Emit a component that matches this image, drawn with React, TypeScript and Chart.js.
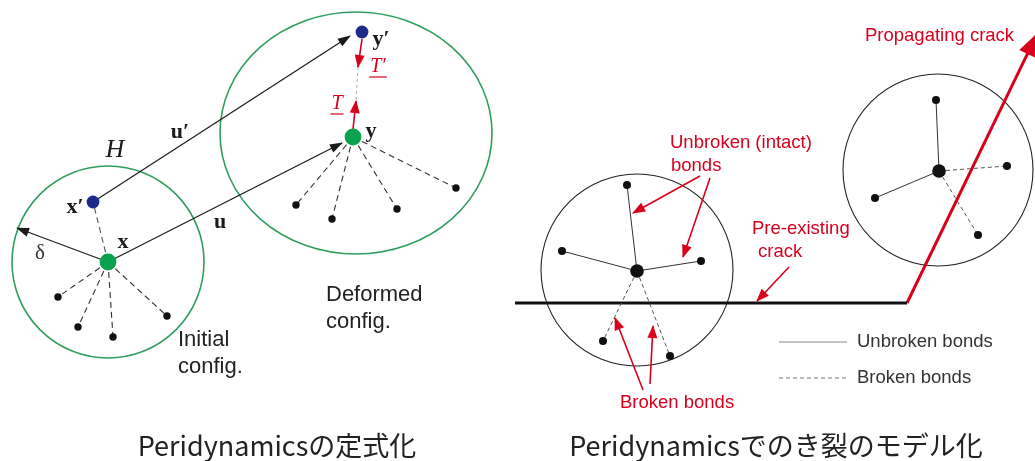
import { useEffect, useRef } from "react";
import { Chart, registerables } from "chart.js";

Chart.register(...registerables);

type P = { x: number; y: number };

// ---------- diagram data (page units) ----------
// Left: peridynamic formulation
const initialCenter: P = { x: 108, y: 262 };
const initialNeighbors: P[] = [
  { x: 58, y: 297 },
  { x: 78, y: 327 },
  { x: 113, y: 337 },
  { x: 167, y: 316 },
];
const initialPrime: P = { x: 93, y: 202 };
const horizonEdge: P = { x: 17, y: 228 };

const deformedCenter: P = { x: 353, y: 137 };
const deformedNeighbors: P[] = [
  { x: 296, y: 205 },
  { x: 332, y: 219 },
  { x: 397, y: 209 },
  { x: 456, y: 188 },
];
const deformedPrime: P = { x: 362, y: 32 };
const displacementTipPrime: P = { x: 350, y: 36 };
const displacementTip: P = { x: 342, y: 143 };
const tractionPrime: P[] = [{ x: 362, y: 39 }, { x: 358, y: 67 }];
const traction: P[] = [{ x: 353, y: 129 }, { x: 356, y: 101 }];
const tractionGap: P[] = [{ x: 358, y: 67 }, { x: 356, y: 101 }];

// Right: crack modelling
const leftFamilyCenter: P = { x: 637, y: 271 };
const leftIntact: P[] = [
  { x: 627, y: 185 },
  { x: 562, y: 251 },
  { x: 701, y: 261 },
];
const leftBroken: P[] = [
  { x: 603, y: 341 },
  { x: 670, y: 356 },
];
const rightFamilyCenter: P = { x: 939, y: 171 };
const rightIntact: P[] = [
  { x: 936, y: 100 },
  { x: 875, y: 198 },
];
const rightBroken: P[] = [
  { x: 1007, y: 166 },
  { x: 978, y: 235 },
];
const preCrack: P[] = [{ x: 515, y: 303 }, { x: 907, y: 303 }];
const propagatingCrack: P[] = [{ x: 907, y: 303 }, { x: 1037, y: 34 }];

const calloutIntact: P[][] = [
  [{ x: 700, y: 176 }, { x: 633, y: 213 }],
  [{ x: 710, y: 178 }, { x: 683, y: 257 }],
];
const calloutPreCrack: P[] = [{ x: 789, y: 267 }, { x: 757, y: 301 }];
const calloutBroken: P[][] = [
  [{ x: 643, y: 390 }, { x: 615, y: 318 }],
  [{ x: 650, y: 384 }, { x: 653, y: 326 }],
];
const legendSolid: P[] = [{ x: 779, y: 342 }, { x: 847, y: 342 }];
const legendDashed: P[] = [{ x: 779, y: 378 }, { x: 849, y: 378 }];

// Horizon rings: centre and radii
const ringCenters: P[] = [
  { x: 108, y: 262 },
  { x: 356, y: 133 },
  { x: 637, y: 270 },
  { x: 938, y: 170 },
];
const ringRadiiX = [96, 136, 96, 95];
const ringRadiiY = [96, 121, 96, 96];

// ---------- styles ----------
const GREEN_RING = "#2f9e5f";
const GREEN_DOT = "#0aa24e";
const BLUE_DOT = "#1c2a8c";
const RED = "#d8001c";
const INK = "#1a1a1a";
const ringColors = [GREEN_RING, GREEN_RING, "#222", "#222"];
const ringWidths = [1.6, 1.6, 1.1, 1.1];

const SERIF = '"Liberation Serif", "DejaVu Serif", serif';
const SANS = '"Liberation Sans", Arial, sans-serif';
const CJK = '"Noto Sans CJK JP", "Noto Sans", sans-serif';

type Label = {
  text: string;
  at: P;
  font: string;
  color: string;
  align?: CanvasTextAlign;
  underline?: boolean;
};

const labels: Label[] = [
  { text: "H", at: { x: 115, y: 150 }, font: `italic 26px ${SERIF}`, color: INK, align: "center" },
  { text: "u\u2032", at: { x: 180, y: 132 }, font: `bold 22px ${SERIF}`, color: INK, align: "center" },
  { text: "x\u2032", at: { x: 75, y: 207 }, font: `bold 22px ${SERIF}`, color: INK, align: "center" },
  { text: "x", at: { x: 123, y: 242 }, font: `bold 22px ${SERIF}`, color: INK, align: "center" },
  { text: "\u03b4", at: { x: 40, y: 253 }, font: `21px ${SERIF}`, color: "#333", align: "center" },
  { text: "u", at: { x: 220, y: 222 }, font: `bold 22px ${SERIF}`, color: INK, align: "center" },
  { text: "y\u2032", at: { x: 381, y: 39 }, font: `bold 22px ${SERIF}`, color: INK, align: "center" },
  { text: "y", at: { x: 371, y: 131 }, font: `bold 22px ${SERIF}`, color: INK, align: "center" },
  { text: "T\u2032", at: { x: 378, y: 67 }, font: `italic 20px ${SERIF}`, color: RED, align: "center", underline: true },
  { text: "T", at: { x: 337, y: 104 }, font: `italic 20px ${SERIF}`, color: RED, align: "center", underline: true },
  { text: "Initial", at: { x: 178, y: 340 }, font: `22px ${SANS}`, color: "#222" },
  { text: "config.", at: { x: 178, y: 367 }, font: `22px ${SANS}`, color: "#222" },
  { text: "Deformed", at: { x: 326, y: 295 }, font: `22px ${SANS}`, color: "#222" },
  { text: "config.", at: { x: 326, y: 322 }, font: `22px ${SANS}`, color: "#222" },
  { text: "Unbroken (intact)", at: { x: 670, y: 143 }, font: `18.5px ${SANS}`, color: RED },
  { text: "bonds", at: { x: 671, y: 166 }, font: `18.5px ${SANS}`, color: RED },
  { text: "Pre-existing", at: { x: 752, y: 229 }, font: `18.5px ${SANS}`, color: RED },
  { text: "crack", at: { x: 758, y: 252 }, font: `18.5px ${SANS}`, color: RED },
  { text: "Propagating crack", at: { x: 865, y: 36 }, font: `18.5px ${SANS}`, color: RED },
  { text: "Broken bonds", at: { x: 620, y: 403 }, font: `18.5px ${SANS}`, color: RED },
  { text: "Unbroken bonds", at: { x: 857, y: 342 }, font: `18.5px ${SANS}`, color: "#333" },
  { text: "Broken bonds", at: { x: 857, y: 378 }, font: `18.5px ${SANS}`, color: "#333" },
  { text: "Peridynamicsの定式化", at: { x: 277, y: 446 }, font: `400 27px ${CJK}`, color: "#222", align: "center" },
  { text: "Peridynamicsでのき裂のモデル化", at: { x: 776, y: 446 }, font: `400 27px ${CJK}`, color: "#222", align: "center" },
];

// ---------- dataset builders ----------
type Head = { len: number; half: number };

function line(points: P[], color: string, width: number, dash: number[] = [], head?: Head) {
  return {
    data: points,
    showLine: true,
    borderColor: color,
    backgroundColor: color,
    borderWidth: width,
    borderDash: dash,
    pointRadius: 0,
    pointHoverRadius: 0,
    tension: 0,
    fill: false,
    clip: false,
    order: 2,
    arrowHead: head,
  } as any;
}

function dots(points: P[], color: string, r: number) {
  return {
    data: points,
    showLine: false,
    pointRadius: r,
    pointHoverRadius: r,
    pointBackgroundColor: color,
    pointBorderWidth: 0,
    borderWidth: 0,
    clip: false,
    order: 0,
  } as any;
}

const DASH_L = [6, 4];
const DASH_R = [4, 3];
const BLACK_HEAD: Head = { len: 12, half: 4.5 };
const RED_HEAD: Head = { len: 12, half: 5 };

function buildDatasets() {
  const ds: any[] = [];
  // left diagram bonds
  initialNeighbors.forEach((p) => ds.push(line([initialCenter, p], "#333", 1.1, DASH_L)));
  ds.push(line([initialCenter, initialPrime], "#555", 1.1, DASH_L));
  deformedNeighbors.forEach((p) => ds.push(line([deformedCenter, p], "#333", 1.1, DASH_L)));
  ds.push(line(tractionGap, "#aaa", 1, [3, 3]));
  // vectors
  ds.push(line([initialCenter, horizonEdge], INK, 1.2, [], BLACK_HEAD));
  ds.push(line([initialPrime, displacementTipPrime], INK, 1.2, [], BLACK_HEAD));
  ds.push(line([initialCenter, displacementTip], INK, 1.2, [], BLACK_HEAD));
  ds.push(line(tractionPrime, RED, 1.6, [], RED_HEAD));
  ds.push(line(traction, RED, 1.6, [], RED_HEAD));
  // right diagram bonds
  leftIntact.forEach((p) => ds.push(line([leftFamilyCenter, p], "#333", 1, [])));
  leftBroken.forEach((p) => ds.push(line([leftFamilyCenter, p], "#555", 1, DASH_R)));
  rightIntact.forEach((p) => ds.push(line([rightFamilyCenter, p], "#333", 1, [])));
  rightBroken.forEach((p) => ds.push(line([rightFamilyCenter, p], "#555", 1, DASH_R)));
  // cracks
  ds.push(line(preCrack, "#111", 3));
  ds.push(line(propagatingCrack, RED, 3, [], { len: 22, half: 9 }));
  // callouts
  calloutIntact.forEach((seg) => ds.push(line(seg, RED, 1.6, [], RED_HEAD)));
  ds.push(line(calloutPreCrack, RED, 1.6, [], RED_HEAD));
  calloutBroken.forEach((seg) => ds.push(line(seg, RED, 1.6, [], RED_HEAD)));
  // legend samples
  ds.push(line(legendSolid, "#888", 1));
  ds.push(line(legendDashed, "#777", 1, [4, 3]));
  // points
  ds.push(dots(initialNeighbors, "#111", 3.7));
  ds.push(dots(deformedNeighbors, "#111", 3.7));
  ds.push(dots([initialCenter, deformedCenter], GREEN_DOT, 8.4));
  ds.push(dots([initialPrime, deformedPrime], BLUE_DOT, 6.4));
  ds.push(dots([...leftIntact, ...leftBroken, ...rightIntact, ...rightBroken], "#111", 4));
  ds.push(dots([leftFamilyCenter, rightFamilyCenter], "#111", 6.8));
  return ds;
}

// ---------- plugins ----------
const ringPlugin = {
  id: "rings",
  beforeDatasetsDraw(chart: any) {
    const { ctx } = chart;
    const sx = chart.scales.x;
    const sy = chart.scales.y;
    ctx.save();
    ringCenters.forEach((c, i) => {
      const px = sx.getPixelForValue(c.x);
      const py = sy.getPixelForValue(c.y);
      const rx = Math.abs(sx.getPixelForValue(c.x + ringRadiiX[i]) - px);
      const ry = Math.abs(sy.getPixelForValue(c.y + ringRadiiY[i]) - py);
      ctx.beginPath();
      ctx.ellipse(px, py, rx, ry, 0, 0, Math.PI * 2);
      ctx.strokeStyle = ringColors[i];
      ctx.lineWidth = ringWidths[i];
      ctx.stroke();
    });
    ctx.restore();
  },
};

const arrowPlugin = {
  id: "arrowHeads",
  afterDatasetsDraw(chart: any) {
    const { ctx } = chart;
    chart.data.datasets.forEach((ds: any, i: number) => {
      const head: Head | undefined = ds.arrowHead;
      if (!head) return;
      const pts = chart.getDatasetMeta(i).data;
      const n = pts.length;
      if (n < 2) return;
      const a = pts[n - 2];
      const b = pts[n - 1];
      const ang = Math.atan2(b.y - a.y, b.x - a.x);
      const c = Math.cos(ang);
      const s = Math.sin(ang);
      const bx = b.x - head.len * c;
      const by = b.y - head.len * s;
      ctx.save();
      ctx.fillStyle = ds.borderColor;
      ctx.beginPath();
      ctx.moveTo(b.x + c, b.y + s);
      ctx.lineTo(bx - head.half * s, by + head.half * c);
      ctx.lineTo(bx + head.half * s, by - head.half * c);
      ctx.closePath();
      ctx.fill();
      ctx.restore();
    });
  },
};

const labelPlugin = {
  id: "labels",
  afterDraw(chart: any) {
    const { ctx } = chart;
    const sx = chart.scales.x;
    const sy = chart.scales.y;
    ctx.save();
    ctx.textBaseline = "middle";
    labels.forEach((l) => {
      const px = sx.getPixelForValue(l.at.x);
      const py = sy.getPixelForValue(l.at.y);
      ctx.font = l.font;
      ctx.fillStyle = l.color;
      ctx.textAlign = l.align ?? "left";
      ctx.fillText(l.text, px, py);
      if (l.underline) {
        const w = ctx.measureText(l.text).width;
        const x0 = l.align === "center" ? px - w / 2 : px;
        ctx.strokeStyle = l.color;
        ctx.lineWidth = 1.2;
        ctx.beginPath();
        ctx.moveTo(x0 - 1, py + 10);
        ctx.lineTo(x0 + w + 1, py + 10);
        ctx.stroke();
      }
    });
    ctx.restore();
  },
};

export default function App() {
  const ref = useRef<HTMLCanvasElement | null>(null);

  useEffect(() => {
    document.body.style.margin = "0";
    document.body.style.background = "#ffffff";
    const canvas = ref.current;
    if (!canvas) return;
    const chart = new Chart(canvas, {
      type: "scatter",
      data: { datasets: buildDatasets() },
      options: {
        animation: false,
        responsive: false,
        maintainAspectRatio: false,
        devicePixelRatio: 1,
        events: [],
        layout: { padding: 0, autoPadding: false },
        plugins: {
          legend: { display: false },
          tooltip: { enabled: false },
          title: { display: false },
        },
        scales: {
          x: { type: "linear", min: 0, max: 1035, display: false },
          y: { type: "linear", min: 0, max: 461, reverse: true, display: false },
        },
      },
      plugins: [ringPlugin, arrowPlugin, labelPlugin],
    } as any);
    return () => chart.destroy();
  }, []);

  return (
    <div style={{ width: 1035, height: 461, background: "#fff" }}>
      <canvas ref={ref} width={1035} height={461} style={{ display: "block", width: 1035, height: 461 }} />
    </div>
  );
}
